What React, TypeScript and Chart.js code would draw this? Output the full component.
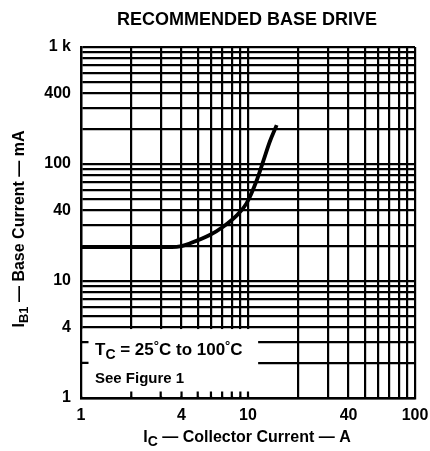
import { useEffect, useRef } from 'react';
import { Chart, registerables } from 'chart.js';

Chart.register(...registerables);

// Collector current (A) and recommended base current (mA)
const IC_AMPS = [1, 3.5, 4.0, 4.5, 5.9, 7.1, 8.6, 9.8, 11.3, 12.4, 13.5, 14.85];
const IB1_MA = [19.5, 19.5, 19.9, 21, 24.7, 29.1, 36.6, 46.1, 73, 108, 155, 215];

// Grid lines (log paper) and labelled ticks
const X_GRID = [1, 2, 3, 4, 5, 6, 7, 8, 9, 10, 20, 30, 40, 50, 60, 70, 80, 90, 100];
const Y_GRID = [1, 2, 3, 4, 5, 6, 7, 8, 9, 10, 20, 30, 40, 50, 60, 70, 80, 90, 100, 200, 300, 400, 500, 600, 700, 800, 900, 1000];
const X_LABEL_VALUES = [1, 4, 10, 40, 100];
const X_LABEL_TEXT = ['1', '4', '10', '40', '100'];
const Y_LABEL_VALUES = [1, 4, 10, 40, 100, 400, 1000];
const Y_LABEL_TEXT = ['1', '4', '10', '40', '100', '400', '1 k'];

// Blank note area (data coords) and its edge ticks
const NOTE_X_RANGE = [1, 11.5];
const NOTE_Y_RANGE = [1, 4];
const NOTE_BOTTOM_TICKS = [2, 3, 4, 5, 6, 7, 8, 9, 10];
const NOTE_LEFT_TICKS = [2, 3];

const FONT = '"Liberation Sans", Arial, Helvetica, sans-serif';

type Run = { text: string; size: number; dy: number };

function drawRuns(ctx: CanvasRenderingContext2D, runs: Run[], x: number, y: number, align: 'left' | 'center') {
  let total = 0;
  const widths = runs.map((r) => {
    ctx.font = `bold ${r.size}px ${FONT}`;
    const w = ctx.measureText(r.text).width;
    total += w;
    return w;
  });
  let cx = align === 'center' ? x - total / 2 : x;
  ctx.textAlign = 'left';
  ctx.textBaseline = 'alphabetic';
  runs.forEach((r, i) => {
    ctx.font = `bold ${r.size}px ${FONT}`;
    ctx.fillText(r.text, cx, y + r.dy);
    cx += widths[i];
  });
}

const annotations = {
  id: 'annotations',
  beforeDatasetsDraw(chart: any) {
    const { ctx, scales } = chart;
    const xs = scales.x;
    const ys = scales.y;
    const x0 = xs.getPixelForValue(NOTE_X_RANGE[0]) + 1.5;
    const x1 = xs.getPixelForValue(NOTE_X_RANGE[1]);
    const y0 = ys.getPixelForValue(NOTE_Y_RANGE[1]) + 1.5;
    const y1 = ys.getPixelForValue(NOTE_Y_RANGE[0]) - 1.5;
    ctx.save();
    ctx.fillStyle = '#fff';
    ctx.fillRect(x0, y0, x1 - x0, y1 - y0);
    ctx.strokeStyle = '#000';
    ctx.lineWidth = 2.2;
    ctx.beginPath();
    NOTE_BOTTOM_TICKS.forEach((v) => {
      const px = xs.getPixelForValue(v);
      ctx.moveTo(px, y1 + 1.5);
      ctx.lineTo(px, y1 - 5);
    });
    NOTE_LEFT_TICKS.forEach((v) => {
      const py = ys.getPixelForValue(v);
      ctx.moveTo(x0 - 1.5, py);
      ctx.lineTo(x0 + 6, py);
    });
    ctx.stroke();
    ctx.restore();
  },
  afterDraw(chart: any) {
    const { ctx, scales } = chart;
    const xs = scales.x;
    ctx.save();
    ctx.fillStyle = '#000';
    // Title
    ctx.font = `bold 18px ${FONT}`;
    ctx.textAlign = 'center';
    ctx.textBaseline = 'alphabetic';
    ctx.fillText('RECOMMENDED BASE DRIVE', 247, 25);

    // Note text
    const nx = xs.getPixelForValue(1) + 14;
    drawRuns(
      ctx,
      [
        { text: 'T', size: 17, dy: 0 },
        { text: 'C', size: 14, dy: 4 },
        { text: ' = 25', size: 17, dy: 0 },
        { text: '°', size: 13, dy: -5 },
        { text: 'C to 100', size: 17, dy: 0 },
        { text: '°', size: 13, dy: -5 },
        { text: 'C', size: 17, dy: 0 },
      ],
      nx,
      355,
      'left'
    );
    drawRuns(ctx, [{ text: 'See Figure 1', size: 15, dy: 0 }], nx, 383, 'left');

    // X axis title
    drawRuns(
      ctx,
      [
        { text: 'I', size: 16, dy: 0 },
        { text: 'C', size: 14, dy: 4 },
        { text: ' — Collector Current — A', size: 16, dy: 0 },
      ],
      247,
      442,
      'center'
    );

    // Y axis title (rotated)
    ctx.translate(24, 229);
    ctx.rotate(-Math.PI / 2);
    drawRuns(
      ctx,
      [
        { text: 'I', size: 16, dy: 0 },
        { text: 'B1', size: 13, dy: 4 },
        { text: ' — Base Current — mA', size: 16, dy: 0 },
      ],
      0,
      0,
      'center'
    );
    ctx.restore();
  },
};

export default function App() {
  const canvasRef = useRef<HTMLCanvasElement | null>(null);

  useEffect(() => {
    document.body.style.margin = '0';
    const canvas = canvasRef.current;
    if (!canvas) return;
    const tickFont = { family: FONT, size: 16, weight: 'bold' as const };
    const chart = new Chart(canvas, {
      type: 'line',
      data: {
        datasets: [
          {
            data: IC_AMPS.map((x, i) => ({ x, y: IB1_MA[i] })),
            borderColor: '#000',
            borderWidth: 3.8,
            pointRadius: 0,
            cubicInterpolationMode: 'monotone',
            fill: false,
          },
        ],
      },
      options: {
        animation: false,
        responsive: false,
        devicePixelRatio: 1,
        layout: { padding: { left: 0, right: 15, top: 47, bottom: 0 } },
        plugins: { legend: { display: false }, title: { display: false }, tooltip: { enabled: false } },
        scales: {
          x: {
            type: 'logarithmic',
            min: 1,
            max: 100,
            afterBuildTicks: (s: any) => {
              s.ticks = X_GRID.map((v) => ({ value: v }));
            },
            afterFit: (s: any) => {
              s.height = 53;
              s.paddingRight = 0;
              s.paddingLeft = 0;
            },
            grid: { color: '#000', lineWidth: 2.2, drawTicks: false },
            border: { color: '#000', width: 2.4 },
            ticks: {
              autoSkip: false,
              maxRotation: 0,
              padding: 8,
              color: '#000',
              font: tickFont,
              callback: (v: any) => {
                const i = X_LABEL_VALUES.indexOf(Number(v));
                return i >= 0 ? X_LABEL_TEXT[i] : '';
              },
            },
          },
          y: {
            type: 'logarithmic',
            min: 1,
            max: 1000,
            afterBuildTicks: (s: any) => {
              s.ticks = Y_GRID.map((v) => ({ value: v }));
            },
            afterFit: (s: any) => {
              s.width = 81;
              s.paddingTop = 0;
              s.paddingBottom = 0;
            },
            grid: { color: '#000', lineWidth: 2.2, drawTicks: false },
            border: { color: '#000', width: 2.4 },
            ticks: {
              autoSkip: false,
              padding: 10,
              color: '#000',
              font: tickFont,
              callback: (v: any) => {
                const i = Y_LABEL_VALUES.indexOf(Number(v));
                return i >= 0 ? Y_LABEL_TEXT[i] : '';
              },
            },
          },
        },
      },
      plugins: [annotations],
    });
    return () => chart.destroy();
  }, []);

  return (
    <div style={{ position: 'relative', width: 430, height: 451, background: '#fff' }}>
      <canvas ref={canvasRef} width={430} height={451} style={{ display: 'block', width: 430, height: 451 }} />
    </div>
  );
}
